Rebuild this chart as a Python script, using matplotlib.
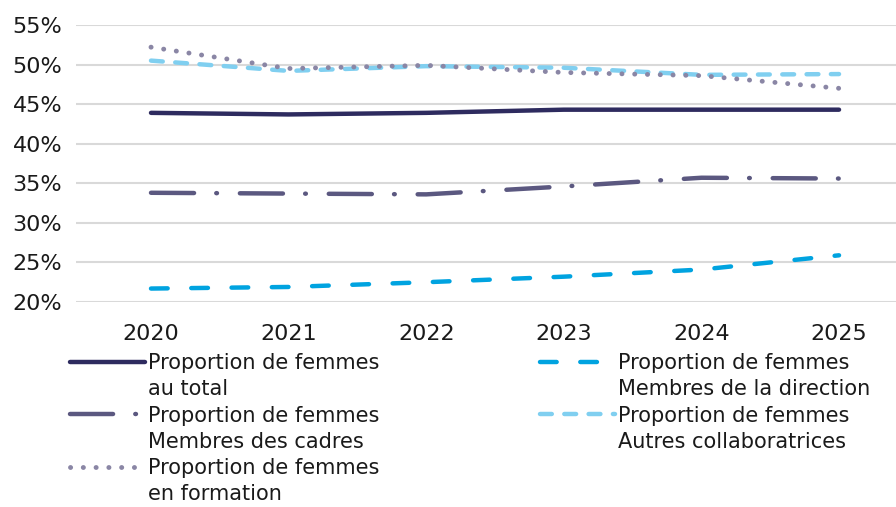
import matplotlib.pyplot as plt
from matplotlib.lines import Line2D
from matplotlib.ticker import FuncFormatter

plt.rcParams['font.family'] = ['DejaVu Sans']
plt.rcParams['lines.scale_dashes'] = False

annees = ['2020', '2021', '2022', '2023', '2024', '2025']

total = [43.9, 43.7, 43.9, 44.3, 44.3, 44.3]
direction = [21.7, 21.9, 22.5, 23.2, 24.1, 25.9]
cadres = [33.8, 33.7, 33.6, 34.6, 35.7, 35.6]
autres = [50.5, 49.2, 49.8, 49.6, 48.7, 48.8]
formation = [52.2, 49.5, 49.9, 49.0, 48.6, 47.0]

lignes1 = ['Proportion de femmes', 'au total',
           'Proportion de femmes', 'Membres des cadres',
           'Proportion de femmes', 'en formation']
lignes2 = ['Proportion de femmes', 'Membres de la direction',
           'Proportion de femmes', 'Autres collaboratrices']

W, H = 896, 507
fig = plt.figure(figsize=(W / 100, H / 100), dpi=100)
ax = fig.add_axes([76 / W, 1 - 302 / H, (W - 76) / W, (302 - 25) / H])

x = range(len(annees))
lw = 3.2
styles = dict(linewidth=lw, solid_capstyle='round', dash_capstyle='round')

l_total, = ax.plot(x, total, color='#2E2B5F', **styles)
l_dir, = ax.plot(x, direction, color='#00A3E0', dashes=(12, 17), **styles)
l_cad, = ax.plot(x, cadres, color='#5B5880', dashes=(31, 16, 0.5, 16.5), **styles)
l_aut, = ax.plot(x, autres, color='#80CFF0', dashes=(8.5, 9), **styles)
l_for, = ax.plot(x, formation, color='#8A86A5', linewidth=3.5,
                 dashes=(0.1, 9.1), dash_capstyle='round')

ax.set_ylim(20, 55)
ax.set_yticks(range(20, 56, 5))
ax.yaxis.set_major_formatter(FuncFormatter(lambda v, p: f'{v:.0f}%'))
ax.set_xlim(-0.545, 5.414)
ax.set_xticks(list(x))
ax.set_xticklabels(annees)
ax.tick_params(length=0, labelsize=16, colors='#1a1a1a')
ax.tick_params(axis='y', pad=10)
ax.tick_params(axis='x', pad=16)
ax.grid(axis='y', color='#D9D9D9', linewidth=1.5)
ax.set_axisbelow(True)
for s in ax.spines.values():
    s.set_visible(False)

vide = Line2D([], [], color='none')
leg_kw = dict(loc='upper left', frameon=False, fontsize=15, handlelength=3.6,
              handletextpad=0.15, borderpad=0, borderaxespad=0,
              labelspacing=0.3)
leg1 = fig.legend([l_total, vide, l_cad, vide, l_for, vide], lignes1,
                  bbox_to_anchor=(70 / W, 1 - 353 / H), **leg_kw)
leg2 = fig.legend([l_dir, vide, l_aut, vide], lignes2,
                  bbox_to_anchor=(540 / W, 1 - 353 / H), **leg_kw)
for leg in (leg1, leg2):
    for t in leg.get_texts():
        t.set_color('#1a1a1a')

fig.savefig('out.png', dpi=100)
